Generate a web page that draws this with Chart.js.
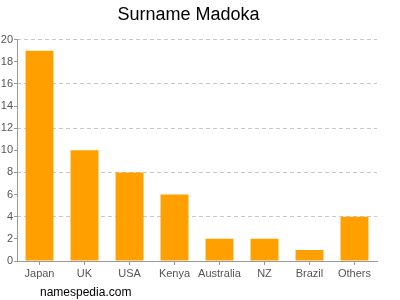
<!DOCTYPE html>
<html>
<head>
<meta charset="utf-8">
<script src="https://cdn.jsdelivr.net/npm/chart.js@4.4.0/dist/chart.umd.min.js"></script>
<style>
  body { margin: 0; background: #fff; }
  #wrap { width: 400px; height: 300px; }
</style>
</head>
<body>
<div id="wrap"><canvas id="grafica" width="400" height="300"></canvas></div>
<script>
const paises = ['Japan', 'UK', 'USA', 'Kenya', 'Australia', 'NZ', 'Brazil', 'Others'];
const cantidades = [19, 10, 8, 6, 2, 2, 1, 4];
const maxY = 20;
const pasoY = 2;
const pasoGrid = 4;

const pie = {
  id: 'pie',
  afterDraw(chart) {
    const c = chart.ctx;
    c.save();
    c.font = '12px "Liberation Sans", Arial, sans-serif';
    c.fillStyle = '#000';
    c.textBaseline = 'alphabetic';
    c.fillText('namespedia.com', 40, 296);
    c.restore();
  }
};

const fuente = { family: '"Liberation Sans", Arial, sans-serif', size: 11 };

const ctx = document.getElementById('grafica').getContext('2d');
new Chart(ctx, {
  type: 'bar',
  data: {
    labels: paises,
    datasets: [{
      data: cantidades,
      backgroundColor: '#ffa000',
      barPercentage: 0.62,
      categoryPercentage: 1
    }]
  },
  options: {
    responsive: false,
    animation: false,
    layout: { padding: { top: 0, right: 23, bottom: 13, left: 0 } },
    plugins: {
      legend: { display: false },
      tooltip: { enabled: false },
      title: {
        display: true,
        text: 'Surname Madoka',
        color: '#000',
        font: { family: '"Liberation Sans", Arial, sans-serif', size: 18, weight: 'normal' },
        padding: { top: 4, bottom: 14 }
      }
    },
    scales: {
      x: {
        afterFit: s => { s.height = 26; },
        grid: { display: true, drawOnChartArea: false, tickLength: 4, tickColor: '#999', offset: false },
        border: { color: '#999' },
        ticks: { color: '#555', maxRotation: 0, minRotation: 0, autoSkip: false, font: fuente, padding: 2 }
      },
      // eje auxiliar solo para las lineas punteadas cada 4
      yGrid: {
        position: 'left',
        min: 0,
        max: maxY,
        afterFit: s => { s.width = 0; },
        border: { display: false, dash: [4, 3] },
        grid: { color: '#c8c8c8', drawTicks: false },
        ticks: { display: false, stepSize: pasoGrid }
      },
      y: {
        position: 'left',
        min: 0,
        max: maxY,
        afterFit: s => { s.width = 17; },
        border: { color: '#999' },
        grid: { drawOnChartArea: false, tickColor: '#999', tickLength: 3 },
        ticks: { stepSize: pasoY, color: '#555', padding: 1, font: fuente }
      }
    }
  },
  plugins: [pie]
});
</script>
</body>
</html>
